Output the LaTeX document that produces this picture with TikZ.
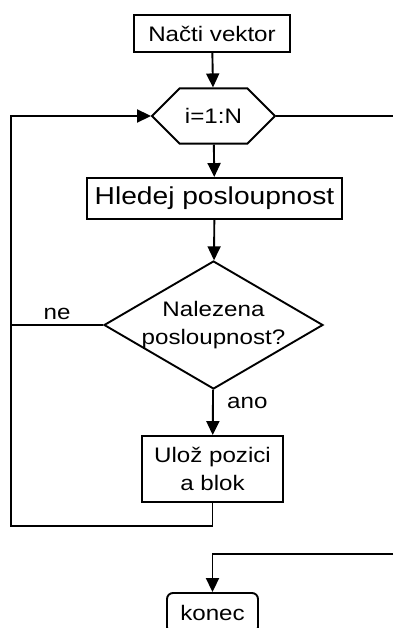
\documentclass[tikz,border=0pt]{standalone}
\usepackage{fontspec}
\setmainfont{Liberation Sans}[FakeStretch=1.15]
\usetikzlibrary{arrows.meta,shapes.geometric,shapes.misc,positioning}

\begin{document}
\begin{tikzpicture}[x=1pt, y=-1pt, line width=1.9pt,
  blok/.style={draw, rectangle, inner sep=0pt, align=center,
    font=\fontsize{21}{28}\selectfont},
  sipka/.style={-{Triangle[length=14pt,width=13pt]}},
  popis/.style={font=\fontsize{21}{24}\selectfont}]
  \useasboundingbox (0,0) rectangle (393,628);
  \node[blok, minimum width=156pt, minimum height=37pt] (vektor) at (212, 33.5) {Načti vektor};
  \node[blok, chamfered rectangle, chamfered rectangle xsep=30pt, chamfered rectangle ysep=20pt,
    minimum width=123pt, minimum height=40pt] (cyklus) at (213.5, 116) {i=1:N};
  \node[blok, minimum width=255pt, minimum height=41pt, font=\fontsize{24.5}{28}\selectfont] (hledej) at (214.5, 198.5) {Hledej posloupnost};
  \node[blok, diamond, aspect=1.71, inner sep=-4pt, minimum width=219pt, minimum height=128pt] (nalezena) at (213.5, 325) {Nalezena\\posloupnost?};
  \node[blok, minimum width=141pt, minimum height=66pt] (uloz) at (212.5, 469) {Ulož pozici\\a blok};
  \node[blok, rounded corners=6pt, minimum width=91pt, minimum height=40pt] (konec) at (212.5, 613) {konec};
  \coordinate (vlevo) at (11, 526);
  \coordinate (vpravo) at (393, 116);
  \coordinate (zpet) at (393, 554);
  \draw[sipka] (vektor) -- (cyklus);
  \draw[sipka] (cyklus) -- (hledej);
  \draw[sipka] (hledej) -- (nalezena);
  \draw[sipka] (nalezena) -- node[popis, pos=0.3, right=10pt] {ano} (uloz);
  \draw (nalezena.west) -- node[popis, above=1pt] {ne} (nalezena.west -| vlevo);
  \draw[sipka] (uloz.south) |- (vlevo) |- (cyklus.west);
  \draw (cyklus.east) -- (vpravo);
  \draw[sipka] (zpet) -| (konec.north);
\end{tikzpicture}
\end{document}
